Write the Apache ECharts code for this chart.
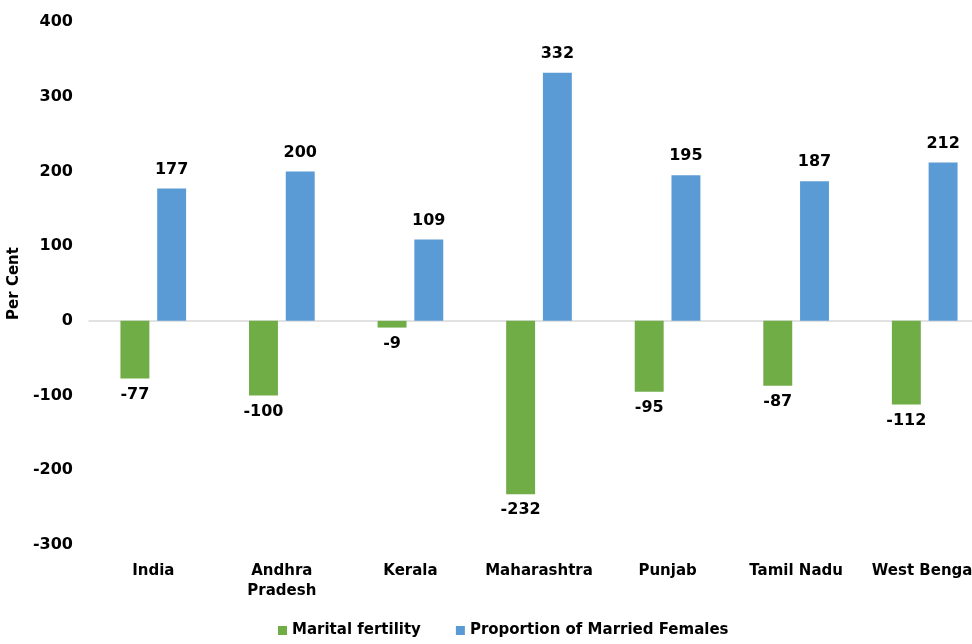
<!DOCTYPE html>
<html>
<head>
<meta charset="utf-8">
<script src="https://cdn.jsdelivr.net/npm/echarts@6/dist/echarts.min.js"></script>
<style>
html,body{margin:0;padding:0;background:#fff;}
#chart{width:972px;height:644px;}
</style>
</head>
<body>
<div id="chart"></div>
<script>
var states = ['India', 'Andhra\nPradesh', 'Kerala', 'Maharashtra', 'Punjab', 'Tamil Nadu', 'West Bengal'];
var maritalFertility = [-77, -100, -9, -232, -95, -87, -112];
var marriedFemales = [177, 200, 109, 332, 195, 187, 212];

var font = 'DejaVu Sans';
var chart = echarts.init(document.getElementById('chart'));

var option = {
	animation : false,
	textStyle : {
		fontFamily : font
	},
	grid : {
		left : 89,
		width : 900,
		top : 22,
		height : 523,
		outerBoundsMode : 'none',
		containLabel : false
	},
	legend : {
		bottom : 1,
		left : 273,
		itemWidth : 9,
		itemHeight : 9,
		itemGap : 35,
		icon : 'rect',
		textStyle : {
			fontFamily : font,
			fontWeight : 'bold',
			fontSize : 15,
			color : '#000'
		},
		data : [ 'Marital fertility', 'Proportion of Married Females' ]
	},
	xAxis : [ {
		type : 'category',
		data : states,
		position : 'bottom',
		axisLine : { show : false, onZero : false },
		axisTick : { show : false },
		axisLabel : {
			margin : 16,
			interval : 0,
			fontFamily : font,
			fontWeight : 'bold',
			fontSize : 15,
			color : '#000',
			lineHeight : 20
		}
	}, {
		type : 'category',
		data : states,
		position : 'bottom',
		axisLine : { show : true, onZero : true, lineStyle : { color : '#d9d9d9', width : 1.5 } },
		axisTick : { show : false },
		axisLabel : { show : false }
	} ],
	yAxis : {
		type : 'value',
		min : -300,
		max : 400,
		interval : 100,
		name : 'Per Cent',
		nameLocation : 'middle',
		nameGap : 56,
		nameTextStyle : {
			fontFamily : font,
			fontWeight : 'bold',
			fontSize : 15,
			color : '#000'
		},
		axisLine : { show : false },
		axisTick : { show : false },
		splitLine : { show : false },
		axisLabel : {
			margin : 16,
			fontFamily : font,
			fontWeight : 'bold',
			fontSize : 16,
			color : '#000'
		}
	},
	series : [ {
		name : 'Marital fertility',
		type : 'bar',
		data : maritalFertility,
		barWidth : '22.5%',
		barGap : '27%',
		itemStyle : { color : '#70AD47' },
		label : {
			show : true,
			position : 'bottom',
			distance : 8,
			fontFamily : font,
			fontWeight : 'bold',
			fontSize : 16,
			color : '#000'
		}
	}, {
		name : 'Proportion of Married Females',
		type : 'bar',
		data : marriedFemales,
		barWidth : '22.5%',
		itemStyle : { color : '#5B9BD5' },
		label : {
			show : true,
			position : 'top',
			distance : 11,
			fontFamily : font,
			fontWeight : 'bold',
			fontSize : 16,
			color : '#000'
		}
	} ]
};

chart.setOption(option);
</script>
</body>
</html>
